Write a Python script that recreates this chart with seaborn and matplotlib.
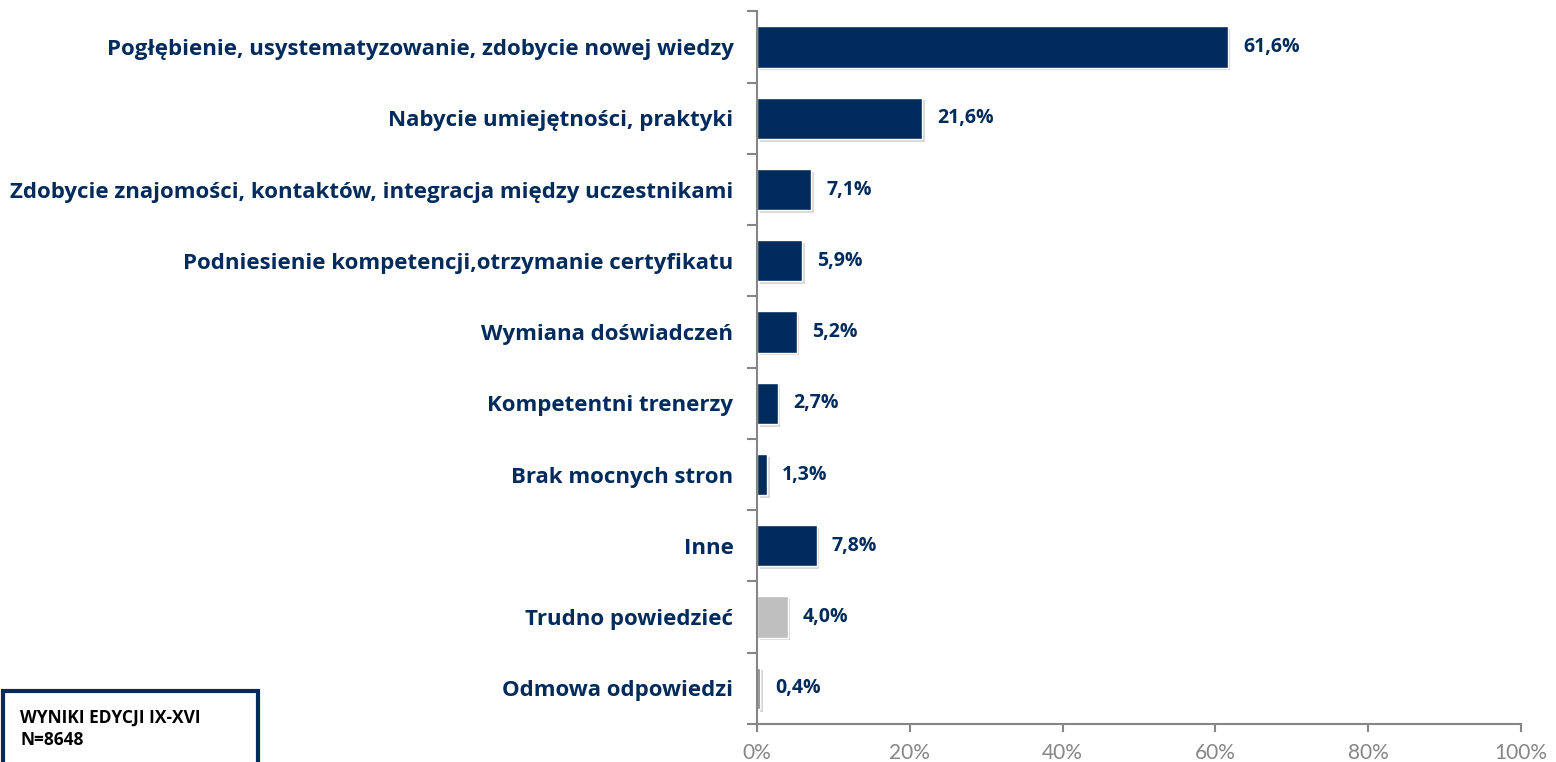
import pandas as pd
import seaborn as sns
import matplotlib.pyplot as plt
import matplotlib.patheffects as pe
from matplotlib.patches import Rectangle
from matplotlib.ticker import FixedLocator, PercentFormatter

# Data
categories = [
    "Pogłębienie, usystematyzowanie, zdobycie nowej wiedzy",
    "Nabycie umiejętności, praktyki",
    "Zdobycie znajomości, kontaktów, integracja między uczestnikami",
    "Podniesienie kompetencji,otrzymanie certyfikatu",
    "Wymiana doświadczeń",
    "Kompetentni trenerzy",
    "Brak mocnych stron",
    "Inne",
    "Trudno powiedzieć",
    "Odmowa odpowiedzi",
]
values = [61.6, 21.6, 7.1, 5.9, 5.2, 2.7, 1.3, 7.8, 4.0, 0.4]
groups = ["main"] * 8 + ["hard", "refuse"]

navy = "#002B5C"
palette = {"main": navy, "hard": "#BFBFBF", "refuse": "#7F7F7F"}
axis_grey = "#868686"

df = pd.DataFrame({"category": categories, "value": values, "group": groups})

sns.set_style("white")
plt.rcParams["font.family"] = ["Open Sans", "DejaVu Sans"]

fig = plt.figure(figsize=(15.56, 7.62), dpi=100)
ax = fig.add_axes([0.4865, 0.05, 0.4910, 0.935])

sns.barplot(data=df, y="category", x="value", hue="group", palette=palette,
            dodge=False, legend=False, width=0.58, saturation=1, ax=ax,
            order=categories)

# soft shadow under the bars
for bar in ax.patches:
    bar.set_path_effects([pe.SimplePatchShadow(offset=(2, -2), shadow_rgbFace="#808080", alpha=0.3),
                          pe.Normal()])

ax.set_xlim(0, 100)
ax.set_ylim(len(categories) - 0.5, -0.5)
ax.set_xlabel("")
ax.set_ylabel("")

# value labels
for i, v in enumerate(values):
    ax.text(v + 2.0, i, f"{v:.1f}%".replace(".", ","), va="center", ha="left",
            fontsize=14, fontweight="bold", color=navy)

# axes styling
for side in ["top", "right"]:
    ax.spines[side].set_visible(False)
for side in ["left", "bottom"]:
    ax.spines[side].set_color(axis_grey)
    ax.spines[side].set_linewidth(1.5)

ax.set_xticks([0, 20, 40, 60, 80, 100])
ax.xaxis.set_major_formatter(PercentFormatter(decimals=0))
ax.tick_params(axis="x", direction="out", length=6, width=1.5, color=axis_grey,
               labelcolor=axis_grey, labelsize=15, pad=8, bottom=True)
for lbl in ax.get_xticklabels():
    lbl.set_fontfamily(["Lato", "DejaVu Sans"])

ax.yaxis.set_minor_locator(FixedLocator([i - 0.5 for i in range(len(categories) + 1)]))
ax.tick_params(axis="y", which="minor", direction="out", length=7, width=1.5,
               color=axis_grey, left=True)
ax.tick_params(axis="y", which="major", length=0, pad=17, labelsize=16,
               labelcolor=navy)
for lbl in ax.get_yticklabels():
    lbl.set_fontweight("bold")

# info box in the bottom-left corner
box = Rectangle((0.002, -0.02), 0.164, 0.113, transform=fig.transFigure,
                fill=False, edgecolor=navy, linewidth=3, clip_on=False)
fig.patches.append(box)
fig.text(0.013, 0.043, "WYNIKI EDYCJI IX-XVI\nN=8648", fontsize=12.5,
         fontweight="bold", color="black", va="center", ha="left", linespacing=1.3)

plt.savefig("out.png", dpi=100)
plt.close()
